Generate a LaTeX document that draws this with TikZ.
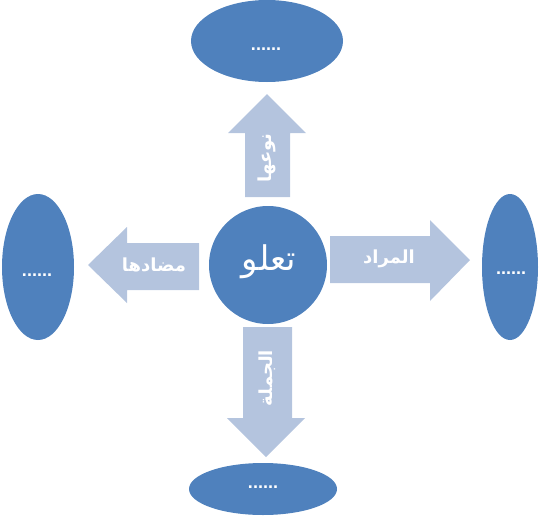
\documentclass[tikz,border=0pt]{standalone}
\usepackage{fontspec}
\TeXXeTstate=1
\newfontfamily\arabicfont[Script=Arabic]{DejaVu Sans}
\setmainfont{Liberation Sans}
\definecolor{blueA}{HTML}{4F81BD}
\definecolor{blueL}{HTML}{B4C4DE}
\begin{document}
\begin{tikzpicture}[x=1pt,y=-1pt,
  blob/.style={fill=blueA,draw=none},
  arr/.style={fill=blueL,draw=none},
  lbl/.style={text=white,font=\arabicfont\bfseries\fontsize{18}{21}\selectfont,inner sep=0pt},
  dots/.style={text=white,font=\bfseries\fontsize{18}{20}\selectfont,inner sep=0pt}]
\useasboundingbox (0,0) rectangle (544,517);
% ellipses and circle
\fill[blob] (267,41) ellipse [x radius=76,y radius=41];
\fill[blob] (38,267) ellipse [x radius=36,y radius=73];
\fill[blob] (510,267) ellipse [x radius=28,y radius=73];
\fill[blob] (263,489) ellipse [x radius=74,y radius=26];
\fill[blob] (268,265) circle [radius=59];
% arrows
\fill[arr] (245,197) -- (245,133) -- (228,133) -- (267,94) -- (306,133) -- (290,133) -- (290,197) -- cycle;
\fill[arr] (243,327) -- (292,327) -- (292,418) -- (305,418) -- (266,457) -- (227,418) -- (243,418) -- cycle;
\fill[arr] (199,243) -- (127,243) -- (127,227) -- (88,265) -- (127,303) -- (127,290) -- (199,290) -- cycle;
\fill[arr] (330,236) -- (430,236) -- (430,220) -- (470,260) -- (430,301) -- (430,283) -- (330,283) -- cycle;
% texts
\node[text=white,font=\arabicfont\fontsize{34}{38}\selectfont,inner sep=0pt] (c) at (269,262) {\beginR تعلو\endR};
\node[lbl,rotate=90] (t) at (267,158) {\beginR نوعها\endR};
\node[lbl,rotate=90] (b) at (267,378) {\beginR الجملة\endR};
\node[lbl] (l) at (154,265) {\beginR مضادها\endR};
\node[lbl] (r) at (389,259) {\beginR المراد\endR};
\node[dots] (d1) at (266,49) {......};
\node[dots] (d2) at (37,275) {......};
\node[dots] (d3) at (511,273) {......};
\node[dots] (d4) at (263,487) {......};
\end{tikzpicture}
\end{document}
